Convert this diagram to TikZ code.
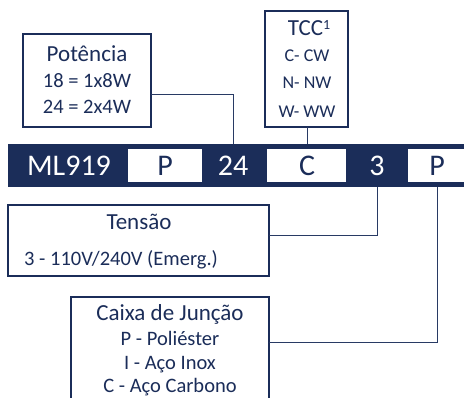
\documentclass[tikz,border=0pt]{standalone}
\usepackage{fontspec}
\setmainfont{Carlito}
\definecolor{navy}{RGB}{27,45,89}
\definecolor{wire}{RGB}{40,58,100}
\begin{document}
\begin{tikzpicture}[x=1pt,y=-1pt,
  box/.style={draw=navy,line width=1.4pt,fill=white,anchor=north west,inner sep=0pt,outer sep=0pt},
  cell/.style={fill=white,anchor=north west,inner sep=0pt,outer sep=0pt,minimum height=33pt},
  txt/.style={text=navy,anchor=base,inner sep=0pt},
  wtxt/.style={text=white,anchor=base,inner sep=0pt},
  big/.style={font=\fontsize{30pt}{36pt}\selectfont},
  head/.style={font=\fontsize{23pt}{27pt}\selectfont},
  item/.style={font=\fontsize{20.5pt}{24pt}\selectfont},
  small/.style={font=\fontsize{18pt}{22pt}\selectfont},
  wire/.style={draw=wire,line width=1pt}]
\useasboundingbox (0,0) rectangle (464,397);
\clip (0,0) rectangle (464,397);
% code bar
\node[fill=navy,anchor=north west,inner sep=0pt,outer sep=0pt,minimum width=456pt,minimum height=43pt] (bar) at (8,144) {};
\node[cell,minimum width=74pt] (cellP) at (128,149) {};
\node[cell,minimum width=79pt] (cellC) at (267,149) {};
\node[cell,minimum width=60pt] (cellP2) at (408,149) {};
\node[wtxt,big] (tML) at (69,175) {ML919};
\node[txt,big] (tP) at (165,175) {P};
\node[wtxt,big] (t24) at (233,175) {24};
\node[txt,big] (tC) at (307,175) {C};
\node[wtxt,big] (t3) at (377,175) {3};
\node[txt,big] (tP2) at (437,175) {P};
% boxes
\node[box,minimum width=128pt,minimum height=93pt] (pot) at (23,34) {};
\node[box,minimum width=83pt,minimum height=116pt] (tcc) at (265,11) {};
\node[box,minimum width=261pt,minimum height=71pt] (ten) at (8,205) {};
\node[box,minimum width=198pt,minimum height=110pt] (cai) at (71,297) {};
% box texts
\node[txt,head] (potA) at (87,61) {Potência};
\node[txt,item] (potB) at (87,87) {18 = 1x8W};
\node[txt,item] (potC) at (87,113) {24 = 2x4W};
\node[txt,head] (tccA) at (309,35) {TCC\raisebox{6pt}{\fontsize{14pt}{14pt}\selectfont 1}};
\node[txt,small] (tccB) at (307,61) {C- CW};
\node[txt,small] (tccC) at (307,88) {N- NW};
\node[txt,small] (tccD) at (307,117) {W- WW};
\node[txt,head] (tenA) at (139,229) {Tensão};
\node[txt,item,anchor=base west] (tenB) at (24,265) {3 - 110V/240V (Emerg.)};
\node[txt,head] (caiA) at (170,320) {Caixa de Junção};
\node[txt,item] (caiB) at (170,345) {P - Poliéster};
\node[txt,item] (caiC) at (170,369) {I - Aço Inox};
\node[txt,item] (caiD) at (170,392) {C - Aço Carbono};
% connectors
\draw[wire] (bar.north -| t24) |- ([yshift=-13.5pt]pot.east);
\draw[wire] (tcc.south -| tC) -- (bar.north -| tC);
\draw[wire] (bar.south -| t3) |- ([yshift=5.5pt]ten.east);
\draw[wire] (bar.south -| tP2) |- ([yshift=10pt]cai.east);
\end{tikzpicture}
\end{document}
